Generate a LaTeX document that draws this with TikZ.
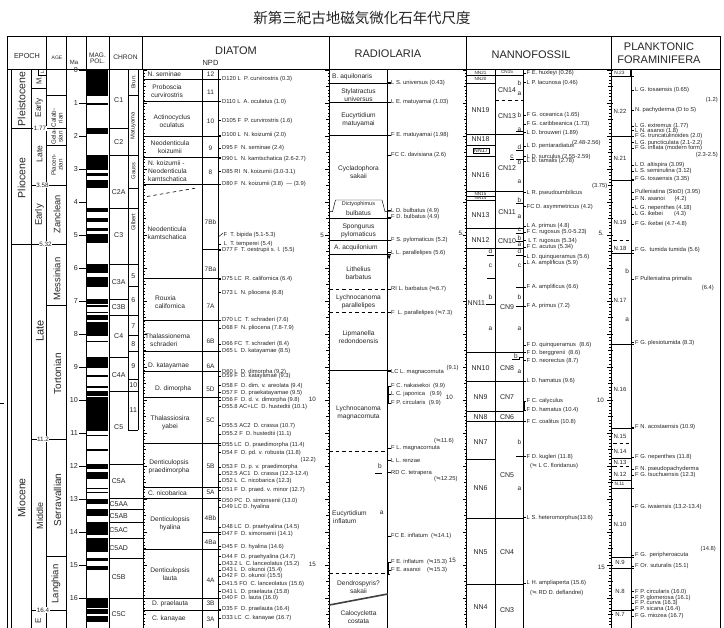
\documentclass[tikz,border=0pt]{standalone}
\usepackage{fontspec}
\setmainfont{Liberation Sans}
\newfontfamily\cjkfont{Noto Sans CJK JP}
\newfontfamily\djfont{DejaVu Sans}
\newcommand\appr{{\djfont ≒}}
\begin{document}
\begin{tikzpicture}[x=1pt,y=-1pt,line width=0.45pt,
  every node/.style={text=black!85},
  zn/.style={font=\fontsize{6.6}{8}\selectfont, inner sep=0, align=center},
  znl/.style={zn, anchor=west, align=left},
  dt/.style={font=\fontsize{5.8}{6.4}\selectfont, inner sep=0, anchor=west},
  hd/.style={font=\fontsize{11}{13}\selectfont, inner sep=0, align=center},
  sh/.style={font=\fontsize{6.5}{7}\selectfont, inner sep=0, align=center},
  lb/.style={font=\fontsize{7}{8}\selectfont, inner sep=0},
  sl/.style={font=\fontsize{6.3}{7}\selectfont, inner sep=0},
  tk/.style={line width=0.35pt},
  dsh/.style={dash pattern=on 3.5pt off 3pt},
  rot/.style={rotate=90, inner sep=0, align=center},
  bl/.style={fill=white, inner sep=0.6pt, font=\fontsize{6.3}{7}\selectfont}]
\useasboundingbox (0,0) rectangle (724,628);
\fill[white] (0,0) rectangle (724,628);
\begin{scope}
\clip (0,0) rectangle (724,628);
% title
\node[font=\cjkfont\fontsize{14.5}{16}\selectfont, inner sep=0] (title) at (362,18) {新第三紀古地磁気微化石年代尺度};
% frame
\draw[line width=0.9pt] (7.3,640) -- (7.3,36.7) -- (720,36.7) -- (720,640);
\draw[line width=0.6pt] (7.3,69.7) -- (720,69.7);
\foreach \x in {46.7,66.7,86,109,142.5,329.3,466.7,611} \draw (\x,36.7) -- (\x,69.7);
% header text
\node[font=\fontsize{7.3}{8}\selectfont, inner sep=0] (hEp) at (27,56) {EPOCH};
\node[font=\fontsize{5}{6}\selectfont, inner sep=0] (hAge) at (57,57.7) {AGE};
\node[font=\fontsize{6}{7}\selectfont, inner sep=0] (hMa) at (74,62.5) {Ma};
\node[font=\fontsize{6.5}{7}\selectfont, inner sep=0, align=center] (hMag) at (97.5,58.5) {MAG.\\[-1pt]POL.};
\node[font=\fontsize{6.6}{7}\selectfont, inner sep=0] (hCh) at (125.5,57.7) {CHRON};
\node[hd] (hDi) at (236,51) {DIATOM};
\node[font=\fontsize{7.5}{8}\selectfont, inner sep=0] (hNPD) at (210.5,63.3) {NPD};
\node[hd] (hRa) at (388,54) {RADIOLARIA};
\node[hd] (hNa) at (531,55) {NANNOFOSSIL};
\node[hd] (hFo) at (659,53) {PLANKTONIC\\FORAMINIFERA};
% body verticals
\foreach \x in {11.7,31.7,46.7,66.7,86,109,143,202.7,218.3,329.3,387.7,466.7,495,523.3,611,631.7} \draw (\x,69.7) -- (\x,640);
\draw (128.3,69.7) -- (128.3,430);
\draw (138.3,69.7) -- (138.3,430);
% rulers
\foreach \i in {0,...,175}{%
  \pgfmathsetmacro\yy{70+3.3*\i}%
  \pgfmathsetmacro\ll{ifthenelse(mod(\i,10)==0,4,ifthenelse(mod(\i,5)==0,3,1.8))}%
  \draw[tk] (143,\yy) -- ++(\ll,0);
  \draw[tk] (329.3,\yy) -- ++(-\ll,0);
  \draw[tk] (466.7,\yy) -- ++(-\ll,0);
  \draw[tk] (611,\yy) -- ++(-\ll,0);
  \draw[tk] (611,\yy) -- ++(\ll*0.6,0);
}
\node[sl, anchor=east] (r5a) at (324,235) {5};
\node[sl, anchor=east] (r10a) at (316,399) {10};
\node[sl, anchor=east] (r15a) at (316,564) {15};
\node[sl, anchor=east] (r5b) at (464,233) {5.};
\node[sl, anchor=east] (r10b) at (453,397) {10};
\node[sl, anchor=east] (r15b) at (456,560) {15};
\node[sl, anchor=east] (r5c) at (604,233) {5.};
\node[sl, anchor=east] (r10c) at (604,400) {10};
\node[sl, anchor=east] (r15c) at (605,567) {15};
\draw (0,403) -- (4,403);
% ---------------- EPOCH / AGE ----------------
\draw (11.7,128.3) -- (66.7,128.3);
\node[bl] (e177) at (40,128.3) {1.77};
\draw (31.7,185) -- (66.7,185);
\node[bl] (e358) at (42.5,185) {3.58};
\draw (11.7,244.3) -- (66.7,244.3);
\node[bl] (e532) at (45.5,244.3) {5.32};
\draw (31.7,439) -- (66.7,439);
\node[bl] (e112) at (43,439) {11.2};
\draw (31.7,610) -- (66.7,610);
\node[bl] (e164) at (43,610) {16.4};
\draw (38.3,69.7) -- (38.3,75.5) -- (46.7,75.5);
\draw (31.7,88) -- (46.7,88);
\draw (46.7,95.7) -- (66.7,95.7);
\draw (46.7,145) -- (66.7,145);
\draw (46.7,305) -- (66.7,305);
\draw (46.7,556.7) -- (66.7,556.7);
\node[rot, font=\fontsize{10.5}{11}\selectfont] (pleist) at (21.5,99) {Pleistocene};
\node[rot, font=\fontsize{10.5}{11}\selectfont] (plioc) at (21.5,178) {Pliocene};
\node[rot, font=\fontsize{10.5}{11}\selectfont] (mioc) at (21.5,498) {Miocene};
\node[rot, font=\fontsize{5}{6}\selectfont] (lP) at (42.5,72.6) {L};
\node[rot, font=\fontsize{7.5}{8}\selectfont] (mP) at (39,80.5) {M.};
\node[rot, font=\fontsize{8.3}{9}\selectfont] (eP) at (39,108) {Early};
\node[rot, font=\fontsize{8.5}{9}\selectfont] (lPl) at (39.5,154) {Late};
\node[rot, font=\fontsize{9.5}{10}\selectfont] (ePl) at (39.5,215) {Early};
\node[rot, font=\fontsize{11}{12}\selectfont] (lM) at (40,331) {Late};
\node[rot, font=\fontsize{9}{10}\selectfont] (mM) at (40,516) {Middle};
\node[rot, font=\fontsize{8}{9}\selectfont] (eM) at (38,621) {E};
\node[rot, font=\fontsize{6.3}{6.6}\selectfont] (calab) at (57,118) {Calab-\\rian};
\node[rot, font=\fontsize{6.3}{6.6}\selectfont] (gela) at (57,137) {Gela-\\sian};
\node[rot, font=\fontsize{6.3}{6.6}\selectfont] (piac) at (57,165) {Piacen-\\zian};
\node[rot, font=\fontsize{9.3}{10}\selectfont] (zanc) at (57,214) {Zanclean};
\node[rot, font=\fontsize{9.5}{10}\selectfont] (mess) at (57,279) {Messinian};
\node[rot, font=\fontsize{10}{11}\selectfont] (tort) at (57.5,374) {Tortonian};
\node[rot, font=\fontsize{10}{11}\selectfont] (serr) at (57.5,500) {Serravallian};
\node[rot, font=\fontsize{9.5}{10}\selectfont] (lang) at (56,584) {Langhian};
% ---------------- Ma ----------------
\foreach \m in {0,...,17} \draw (79,{70+33*\m}) -- (86,{70+33*\m});
\foreach \m in {0,...,16}
  \node[font=\fontsize{7.2}{8}\selectfont, inner sep=0, anchor=east] at (78,{70+33*\m}) {\m};
% ---------------- MAG POL ----------------
\foreach \a/\b in {0/0.78, 0.99/1.07, 1.77/1.95, 2.581/3.04, 3.11/3.22, 3.33/3.58, 4.18/4.29, 4.48/4.62, 4.80/4.89, 4.98/5.23, 5.894/6.137, 6.269/6.567, 6.935/7.091, 7.135/7.17, 7.341/7.375, 7.432/7.562, 7.65/8.072, 8.225/8.257, 8.699/9.025, 9.23/9.308, 9.58/9.642, 9.74/9.88, 9.92/10.949, 11.052/11.099, 11.476/11.531, 11.935/12.078, 12.184/12.401, 12.678/12.708, 12.775/12.819, 12.991/13.139, 13.302/13.51, 13.703/14.076, 14.178/14.612, 14.8/14.888, 15.034/15.155, 16.014/16.293, 16.327/16.488, 16.556/16.726, 17.277/17.615}
  \fill[black] (87.3,{70+33*\a}) rectangle (108.3,{70+33*\b});
% ---------------- CHRON ----------------
\foreach \y in {128.3,298.9,357} \draw (109,\y) -- (128.3,\y);
\foreach \y in {155.2,208,264.5,315.3,391} \draw (109,\y) -- (138.3,\y);
\foreach \y in {95.7,188.1,286,335.7,351.7,379.3,430} \draw (128.3,\y) -- (138.3,\y);
\foreach \y in {463.9,498.7,509,522.2,537.9,558.4,598.5} \draw (109,\y) -- (143,\y);
\foreach \t/\y in {C1/100,C2/141.7,C2A/191.7,C3/235,C3A/281.7,C3B/307,C4/335.7,C4A/375,C5/426.7,C5A/481,C5AA/503.8,C5AB/515.8,C5AC/530,C5AD/548,C5B/577,C5C/614}
  \node[lb] at (118.7,\y) {\t};
\node[rot, font=\fontsize{5.8}{6}\selectfont] (brun) at (133.3,82) {Brun.};
\node[rot, font=\fontsize{5.8}{6}\selectfont] (matu) at (133.3,126) {Matuyama};
\node[rot, font=\fontsize{5.8}{6}\selectfont] (gaus) at (133.3,171) {Gauss};
\node[rot, font=\fontsize{5.8}{6}\selectfont] (gilb) at (133.3,222) {Gilbert};
\foreach \t/\y in {5/276,6/300,7/326,8/344,9/366,10/385,11/410}
  \node[lb] at (133.3,\y) {\t};
% ---------------- DIATOM ----------------
\foreach \y in {79.3,101.7,136,157,184.3,278.3,320,351,371.7,397.3,443.3,487.3,498.3,549,598.3,610} \draw (143,\y) -- (221.3,\y);
\foreach \y in {249.3,532.7} \draw (202.7,\y) -- (221.3,\y);
\draw[dsh, line width=0.6pt] (147,196.5) -- (195,188.3);
\node[znl] (dz1) at (147.5,74.5) {N. seminae};
\node[zn] (dz2) at (167,90.8) {Proboscia\\curvirostris};
\node[zn] (dz3) at (172,121) {Actinocyclus\\oculatus};
\node[zn] (dz4) at (170,147) {Neodenticula\\koizumii};
\node[znl] (dz5) at (148,171) {N. koizumii -\\Neodenticula\\kamtschatica};
\node[znl] (dz6) at (147.5,233.3) {Neodenticula\\kamtschatica};
\node[znl] (dz7) at (155,302.5) {Rouxia\\californica};
\node[znl] (dz8) at (145,340.5) {Thalassionema\\\hspace*{5pt}schraderi};
\node[znl] (dz9) at (148,366) {D. katayamae};
\node[znl] (dz10) at (155,388.3) {D. dimorpha};
\node[zn] (dz11) at (170,422.5) {Thalassiosira\\yabei};
\node[zn] (dz12) at (169,466.7) {Denticulopsis\\praedimorpha};
\node[znl] (dz13) at (148,492.7) {C. nicobarica};
\node[zn] (dz14) at (170,524) {Denticulopsis\\hyalina};
\node[zn] (dz15) at (170,574) {Denticulopsis\\lauta};
\node[znl] (dz16) at (152,603.3) {D. praelauta};
\node[znl] (dz17) at (152,618.3) {C. kanayae};
\foreach \t/\y in {12/74.3,11/92.7,10/121,9/148,8/172,7Bb/221.7,7Ba/269,7A/306.7,6B/341,6A/366,5D/389,5C/420,5B/466,5A/492.7,4Bb/518,4Ba/542,4A/580,3B/603,3A/619}
  \node[sh] at (210.5,\y) {\t};
\foreach \y/\t in {79.3/{D120 L\ \ P. curvirostris (0.3)},
101.7/{D110 L\ \ A. oculatus (1.0)},
120.7/{D105 F\ \ P. curvirostris (1.6)},
135.3/{D100 L\ \ N. koizumii (2.0)},
148.3/{D95 F\ \ N. seminae (2.4)},
158.7/{D90 L\ \ N. kamtschatica (2.6-2.7)},
171.7/{D85 RI\ \ N. koizumii (3.0-3.1)},
184.3/{D80 F\ \ N. koizumii (3.8)\ \ --- (3.9)},
244/{\ L\ \ T. temperei (5.4)},
250/{D77 F\ \ T. oestrupii s. l. (5.5)},
279.3/{D75 LC\ \ R. californica (6.4)},
292.7/{D73 L\ \ N. pliocena (6.8)},
320/{D70 LC\ \ T. schraderi (7.6)},
328.3/{D68 F\ \ N. pliocena (7.8-7.9)},
344.3/{D66 FC\ \ T. schraderi (8.4)},
351/{D65 L\ \ D. katayamae (8.5)},
371.7/{D60 L\ \ D. dimorpha (9.2)},
376/{D59 F\ \ D. katayamae (9.3)},
385.7/{D58 F\ \ D. dim. v. areolata (9.4)},
392.7/{D57 F\ \ D. praekatayamae (9.5)},
400/{D56 F\ \ D. d. v. dimorpha (9.8)},
406.7/{D55.8 AC+LC\ \ D. hustedtii (10.1)},
425.7/{D55.5 AC2\ \ D. crassa (10.7)},
434.3/{D55.2 F\ \ D. hustedtii (11.1)},
445/{D55 LC\ \ D. praedimorpha (11.4)},
452.7/{D54 F\ \ D. pd. v. robusta (11.8)},
467.3/{D53 F\ \ D. p. v. praedimorpha},
474.3/{D52.5 AC1\ \ D. crassa (12.3-12.4)},
481/{D52 L\ \ C. nicobarica (12.3)},
490/{D51 F\ \ D. praed. v. minor (12.7)},
500.7/{D50 PC\ \ D. simonsenii (13.0)},
507.3/{D49 LC\ D. hyalina},
527.3/{D48 LC\ \ D. praehyalina (14.5)},
534/{D47 F\ \ D. simonsenii (14.1)},
546.7/{D45 F\ \ D. hyalina (14.6)},
556.7/{D44 F\ \ D. praehyalina (14.7)},
564.3/{D43.2 L\ \ C. lanceolatus (15.2)},
570/{D43 L\ \ D. okunoi (15.4)},
576/{D42 F\ \ D. okunoi (15.5)},
584/{D41.5 FO\ \ C. lanceolatus (15.6)},
591.7/{D41 L\ \ D. praelauta (15.8)},
598.3/{D40 F\ \ D. lauta (16.0)},
609/{D35 F\ \ D. praelauta (16.4)},
618.3/{D33 LC\ \ C. kanayae (16.7)}}
{\draw (218.3,\y) -- (221.3,\y); \node[dt] at (222,\y) {\t};}
\draw (218.3,237) -- (223,233);
\node[dt] (dF) at (223.5,235) {F\ \ T. bipida (5.1-5.3)};
\node[dt, anchor=east] (d122) at (316,460) {(12.2)};
% ---------------- RADIOLARIA ----------------
\foreach \y in {83.3,102.3,135,218.3,240.7,254.3,370} \draw (329.3,\y) -- (390.5,\y);
\foreach \y in {289.3,312,451.7,573.3} \draw[dsh, line width=0.6pt] (329.3,\y) -- (387.7,\y);
\draw (329.3,211.7) -- (332.5,211.7) -- (335.5,200) -- (382,200) -- (385,211.7) -- (390.5,211.7);
\draw[line width=1.6pt, black!75] (329.3,605) -- (387.7,594);
\draw (375,473.3) -- (382,473.3);
\node[znl] (rz1) at (332,76.7) {B. aquilonaris};
\node[zn] (rz2) at (358.5,95.3) {Stylatractus\\universus};
\node[zn] (rz3) at (358.5,120.2) {Eucyrtidium\\matuyamai};
\node[zn] (rz4) at (358.5,172) {Cycladophora\\sakaii};
\node[font=\fontsize{5.5}{6}\selectfont, inner sep=0] (rz5a) at (358.5,204.3) {Dictyophimus};
\node[zn] (rz5b) at (358.5,213.3) {bulbatus};
\node[zn] (rz6) at (358.5,230.8) {Spongurus\\pylomaticus};
\node[znl] (rz7) at (334,247.3) {A. acquilonium};
\node[zn] (rz8) at (358.5,273.3) {Lithelius\\barbatus};
\node[zn] (rz9) at (358.5,302) {Lychnocanoma\\parallelipes};
\node[zn] (rz10) at (358.5,337.5) {Lipmanella\\redondoensis};
\node[zn] (rz11) at (358.5,412.8) {Lychnocanoma\\magnacornuta};
\node[znl] (rz12) at (332,516.8) {Eucyrtidium\\\hspace*{1pt}inflatum};
\node[zn] (rza) at (381.7,512.7) {a};
\node[zn] (rzb) at (380,466) {b};
\node[zn] (rz13) at (358.5,586.7) {Dendrospyris?\\sakaii};
\node[zn] (rz14) at (358.5,617.5) {Calocycletta\\costata};
\fill (387.6,255.5) -- (390.6,255.5) -- (389.1,259.5) -- cycle;
\draw (390,386) -- (388.3,386) -- (388.3,403.3) -- (390,403.3);
\draw (390,562.3) -- (388.3,562.3) -- (388.3,574) -- (390,574);
\foreach \y/\t in {82.7/{L S. universus (0.43)},
102.3/{L E. matuyamai (1.03)},
135/{F E. matuyamai (1.98)},
155/{FC C. davisiana (2.6)},
210.7/{L D. bulbatus (4.9)},
217.3/{F D. bulbatus (4.9)},
240/{F S. pylomaticus (5.2)},
252.7/{L L. parallelipes (5.6)},
289.3/{RI L. barbatus (\appr6.7)},
312.7/{F\ \ L. parallelipes (\appr7.3)},
371.7/{LC L. magnacornuta},
386/{F C. nakasekoi\ \ (9.9)},
394/{L C. japonica\ \ \ (9.9)},
403.3/{F P. circularis\ \ (9.9)},
448.3/{F L. magnacornuta},
460.7/{L L. renzae},
472.7/{RD C. tetrapera},
536/{FC E. inflatum\ \ (\appr14.1)},
562.3/{F E. inflatum\ \ (\appr15.3)},
570/{F E. asanoi\ \ \ \ (\appr15.3)}}
{\draw (387.7,\y) -- (390.5,\y); \node[dt] at (391,\y) {\t};}
\node[dt] (r91) at (446.5,368.5) {(9.1)};
\node[dt] (r116) at (434,440.7) {(\appr11.6)};
\node[dt] (r1225) at (434,479.3) {(\appr12.25)};
% ---------------- NANNOFOSSIL ----------------
\foreach \y in {83.3,145,156,196,200.7,459.3} \draw (466.7,\y) -- (495,\y);
\foreach \y in {75,134,191.7,228.3,248,352.7,381,411.7,421.7,518.3,584.3} \draw (466.7,\y) -- (523.3,\y);
\draw[dsh] (495,100) -- (523.3,100);
\foreach \t/\y in {NN19/110,NN18/139.5,NN16/175,NN13/215,NN12/240,NN10/367.7,NN9/396.7,NN8/416.7,NN7/441.7,NN6/488.3,NN5/551.7,NN4/607.3}
  \node[lb] at (480.5,\y) {\t};
\node[font=\fontsize{4.6}{5}\selectfont, inner sep=0] (nn21) at (480.5,72.4) {NN21};
\node[font=\fontsize{4.6}{5}\selectfont, inner sep=0] (nn20) at (480.5,79.3) {NN20};
\node[font=\fontsize{5.5}{6}\selectfont, inner sep=0.8pt, draw] (nn17) at (481,150.5) {NN17};
\node[font=\fontsize{4.6}{5}\selectfont, inner sep=0] (nn15) at (480.5,193.8) {NN15};
\node[font=\fontsize{4.6}{5}\selectfont, inner sep=0] (nn14) at (480.5,198.4) {NN14};
\node[lb, anchor=west] (nn11) at (467.5,302.7) {NN11};
\draw (485.5,304.7) -- (495,304.7);
\draw (487,255) -- (494,255);
\draw (487,278.3) -- (495,278.3);
\foreach \t/\y in {d/251,c/266,b/296.7,a/329}
  \node[sh] at (490.5,\y) {\t};
\foreach \t/\y in {CN14/90,CN13/116,CN12/168.3,CN11/211.7,CN10/240.7,CN9/306.7,CN8/367.7,CN7/397.3,CN6/417.3,CN5/475,CN4/551.7,CN3/610}
  \node[lb] at (507,\y) {\t};
\node[font=\fontsize{4.6}{5}\selectfont, inner sep=0] (cn15) at (507,72.4) {CN15};
\foreach \t/\y in {b/82.7,a/93.3,b/115,a/129.3,d/146.7,b/161.7,a/181.7,b/200,a/216.7,c/230,b/238.3,a/245,d/251,c/266,b/296.7,a/329,a/371.7,b/441.7,a/488.3}
  \node[sh] at (519.5,\y) {\t};
\node[sh] (cnc) at (512,156.7) {c};
\node[sh] (cn8b) at (516,356) {b};
\foreach \y in {150.7,159,203.5,233,241.5,255,287.3,306,131.5} \draw (516,\y) -- (523.3,\y);
\draw (510,159) -- (514,159);
\draw (512,359.5) -- (519,359.5) -- (519,357) -- (523.3,357);
\draw (516,456.7) -- (523.3,456.7);
\foreach \y/\t in {73.3/{F E. huxleyi (0.26)},
82.7/{L P. lacunosa (0.46)},
115/{F G. oceanica (1.65)},
124.3/{F G. caribbeanica (1.73)},
132.7/{L D. brouweri (1.89)},
146/{L D. pentaradiatus},
156.7/{L D. surculus (2.55-2.59)},
161/{L D. tamalis (2.78)},
192.7/{L R. pseudoumbilicus},
206.7/{FC D. asymmetricus (4.2)},
226/{L A. primus (4.8)},
232.3/{F C. rugosus (5.0-5.23)},
240.7/{\ L T. rugosus (5.34)},
247.3/{F C. acutus (5.34)},
256.7/{L D. quinqueramus (5.6)},
263.3/{L A. amplificus (5.9)},
287.3/{F A. amplificus (6.6)},
306/{F A. primus (7.2)},
345/{F D. quinqueramus\ \ (8.6)},
352.7/{F D. berggrenii\ \ (8.6)},
360.7/{F D. neorectus (8.7)},
381/{L D. hamatus (9.6)},
401/{F C. calyculus},
410/{F D. hamatus (10.4)},
421.7/{F C. coalitus (10.8)},
456.7/{F D. kugleri (11.8)},
517.7/{L S. heteromorphus(13.6)},
583.3/{L H. ampliaperta (15.6)}}
{\draw (523.3,\y) -- (526,\y); \node[dt] at (526.5,\y) {\t};}
\node[dt] (n248) at (572,143.5) {(2.48-2.56)};
\node[dt] (n375) at (592,186.5) {(3.75)};
\node[dt] (nflo) at (530,466) {(\appr\ L C. floridanus)};
\node[dt] (ndef) at (530,593.3) {(\appr\ RD D. deflandrei)};
\draw (524.5,401) -- (524.5,410);
% ---------------- FORAMINIFERA ----------------
\foreach \y in {76.7,136,180.7,253.3,344,428.3,488.3,557.3,568.3,610} \draw (611,\y) -- (634,\y);
\draw (630,69.7) -- (630,76.7);
\foreach \y in {240.7,443,466.7} \draw[dsh] (613,\y) -- (629,\y);
\foreach \y in {458.3,480} \draw (611,\y) -- (631.7,\y);
\node[font=\fontsize{4.8}{5}\selectfont, inner sep=0] (n23) at (619.5,72.8) {N.23};
\foreach \t/\y in {N.22/111.7,N.21/158.3,N.19/222.7,N.18/248.5,N.17/300,N.16/389.3,N.15/436.5,N.14/451,N.13/462.5,N.12/474,N.10/524,N.9/562.3,N.8/591.7,N.7/614}
  \node[font=\fontsize{6}{7}\selectfont, inner sep=0] at (620,\y) {\t};
\node[font=\fontsize{4.8}{5}\selectfont, inner sep=0] (n11) at (619.5,484) {N.11};
\node[sh] (fb) at (627.3,270.7) {b};
\node[sh] (fa) at (627.3,319.3) {a};
\foreach \y/\t in {90/{L G. tosaensis (0.65)},
110/{N. pachyderma (D to S)},
126/{L G. extremus (1.77)},
130.7/{L N. asanoi (1.8)},
136/{F G. truncatulinoides (2.0)},
142.7/{L G. puncticulata (2.1-2.2)},
148.3/{F G. inflata (modern form)},
165/{L D. altispira (3.09)},
171/{L S. seminulina (3.12)},
179.3/{F G. tosaensis (3.35)},
192.3/{Pulleniatina (StoD) (3.95)},
199.3/{F N. asanoi\ \ \ \ \ \ (4.2)},
207.7/{L G. nepenthes (4.18)},
214/{L G. ikebei\ \ \ \ \ \ \ (4.3)},
224.3/{F G. ikebei (4.7-4.8)},
250/{F G.\ \ tumida tumida (5.6)},
279.3/{F Pulleniatina primalis},
342.7/{F G. plesiotumida (8.3)},
427.3/{F N. acostaensis (10.9)},
457.3/{F G. nepenthes (11.8)},
469.3/{F N. pseudopachyderma},
475/{F G. tsuchuensis (12.3)},
506.7/{F G. iwaiensis (13.2-13.4)},
555/{F G.\ \ peripheroacuta},
566/{F Or. suturalis (15.1)},
591.7/{F P. circularis (16.0)},
597.7/{F P. glomerosa (16.1)},
603.3/{F P. curva (16.3)},
609.3/{F P. sicana (16.4)},
616/{F G. miozea (16.7)}}
{\draw (631.7,\y) -- (634.3,\y); \node[dt] at (635,\y) {\t};}
\node[dt, anchor=east] (f12) at (718,100) {(1.2)};
\node[dt, anchor=east] (f23) at (718,155) {(2.3-2.5)};
\node[dt, anchor=east] (f64) at (714,287.7) {(6.4)};
\node[dt, anchor=east] (f148) at (716,549.3) {(14.8)};
\end{scope}
\end{tikzpicture}
\end{document}
